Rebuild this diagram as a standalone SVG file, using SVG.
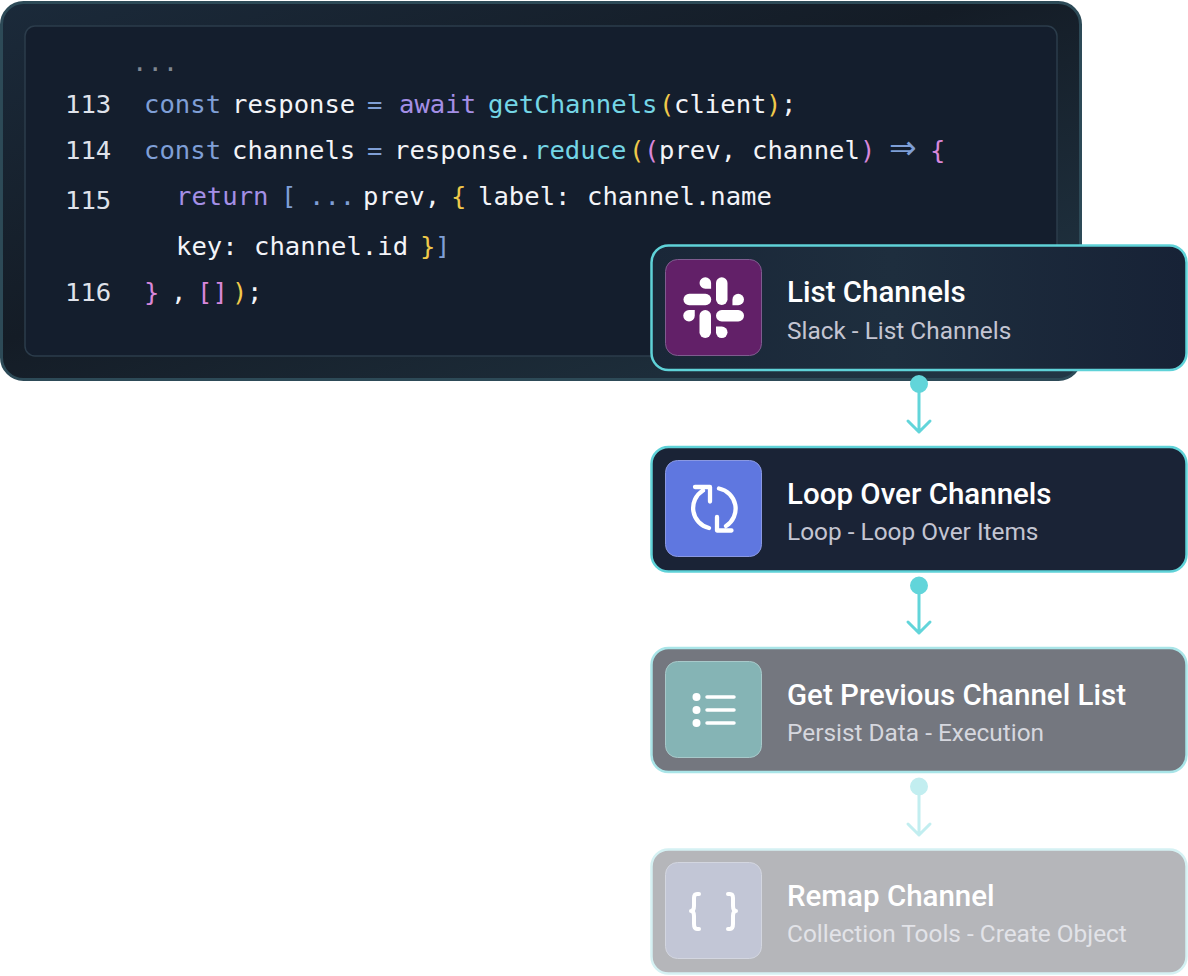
<svg xmlns="http://www.w3.org/2000/svg" width="1188" height="976" viewBox="0 0 1188 976">
<style>
.c{font-family:"DejaVu Sans Mono","Liberation Mono",monospace;font-size:25.6px;fill:#f3f4f8;white-space:pre}
.b{fill:#7f9fd6}.p{fill:#a48fe6}.t{fill:#74d6e6}.y{fill:#f0c94a}.m{fill:#d887da}.n{fill:#dfe2ea}
.h{font-family:Roboto,"Liberation Sans",sans-serif;font-size:29.5px;font-weight:500;fill:#fff}
.s{font-family:Roboto,"Liberation Sans",sans-serif;font-size:24.4px;font-weight:400}
.ic{fill:none;stroke:#fff;stroke-linecap:round;stroke-linejoin:round}
</style>
<defs>
<linearGradient id="outer" x1="0" y1="0" x2="1" y2="1"><stop offset="0" stop-color="#1b2a3a"/><stop offset=".45" stop-color="#141c26"/><stop offset="1" stop-color="#223746"/></linearGradient>
<linearGradient id="n1" x1="0" y1="0" x2="1" y2="0"><stop offset="0" stop-color="#1a2738"/><stop offset=".45" stop-color="#1e2e3e"/><stop offset="1" stop-color="#172236"/></linearGradient>
</defs>
<g id="code-panel">
<rect x="1.5" y="2.5" width="1079" height="377" rx="22" fill="url(#outer)" stroke="#2d4a57" stroke-width="3"/>
<rect x="25" y="26" width="1032" height="330" rx="10" fill="#141e2d" stroke="#2b3c4b" stroke-width="1.500"/>
<text class="c" x="132" y="71" style="fill:#7f8791">...</text>
<text class="c n" x="65" y="113">113</text>
<text class="c n" x="65" y="159">114</text>
<text class="c n" x="65" y="209">115</text>
<text class="c n" x="65" y="301">116</text>
<text class="c" y="113"><tspan class="b" x="144">const</tspan><tspan x="232">response</tspan><tspan class="b" x="367">=</tspan><tspan class="p" x="399">await</tspan><tspan class="t" x="488">getChannels</tspan><tspan class="y" x="659">(</tspan><tspan x="674">client</tspan><tspan class="y" x="766">)</tspan><tspan x="781">;</tspan></text>
<text class="c" y="159"><tspan class="b" x="144">const</tspan><tspan x="232">channels</tspan><tspan class="b" x="367">=</tspan><tspan x="394">response.</tspan><tspan class="t" x="534">reduce</tspan><tspan class="y" x="629">(</tspan><tspan class="m" x="644">(</tspan><tspan x="659">prev,</tspan><tspan x="752">channel</tspan><tspan class="m" x="860">)</tspan><tspan class="b" x="889" style="font-family:'DejaVu Sans',sans-serif;font-size:33px">⇒</tspan><tspan class="m" x="930">{</tspan></text>
<text class="c" y="205"><tspan class="p" x="176">return</tspan><tspan class="b" x="281">[</tspan><tspan class="b" x="309">...</tspan><tspan x="363">prev,</tspan><tspan class="y" x="451">{</tspan><tspan x="478">label:</tspan><tspan x="587">channel.name</tspan></text>
<text class="c" y="255"><tspan x="176">key:</tspan><tspan x="254">channel.id</tspan><tspan class="y" x="420">}</tspan><tspan class="b" x="435">]</tspan></text>
<text class="c" y="301"><tspan class="m" x="144">}</tspan><tspan x="171">,</tspan><tspan class="m" x="197">[]</tspan><tspan class="y" x="232">)</tspan><tspan x="247">;</tspan></text>
</g>
<g id="connectors" fill="none" stroke-width="3" stroke-linecap="round" stroke-linejoin="round">
<g stroke="#62d5da"><circle cx="919" cy="384" r="7.500" fill="#62d5da"/><path d="M919 388V432M908 421L919 432L930 421"/></g>
<g stroke="#62d5da"><circle cx="919" cy="585.500" r="7.500" fill="#62d5da"/><path d="M919 590V633M908 622L919 633L930 622"/></g>
<g stroke="#c2eef0"><circle cx="919" cy="786.500" r="7.500" fill="#c2eef0"/><path d="M919 791V835M908 824L919 835L930 824"/></g>
</g>
<g id="node-list-channels">
<rect x="651.500" y="245.500" width="535" height="124.500" rx="17" fill="url(#n1)" stroke="#5fd2d8" stroke-width="2.500"/>
<rect x="665.500" y="259.500" width="96" height="96" rx="12" fill="#622068" stroke="#7f5c8f"/>
<g fill="#fff">
<rect x="716" y="277.300" width="11.500" height="27.700" rx="5.750"/>
<rect x="683.500" y="293.700" width="27.700" height="11.500" rx="5.750"/>
<path d="M705.300 277.300a5.750 5.750 0 0 1 5.800 5.750v5.750h-5.800a5.750 5.750 0 0 1 0-11.500z"/>
<rect x="716" y="310" width="28" height="11.500" rx="5.750"/>
<path d="M738.200 293.700a5.750 5.750 0 0 1 0 11.500h-5.750v-5.750a5.750 5.750 0 0 1 5.750-5.750z"/>
<rect x="699.500" y="310" width="11.500" height="28" rx="5.750"/>
<path d="M689 310h5.750v5.750a5.750 5.750 0 1 1-5.750-5.750z"/>
<path d="M716 326.600h5.750a5.750 5.750 0 1 1-5.750 5.750z"/>
</g>
<text class="h" x="787" y="302">List Channels</text>
<text class="s" x="787" y="339" fill="#c4c5d2">Slack - List Channels</text>
</g>
<g id="node-loop">
<rect x="651.500" y="447" width="535" height="124.500" rx="17" fill="#1a2336" stroke="#5fd2d8" stroke-width="2.500"/>
<rect x="665.500" y="460.500" width="96" height="96" rx="12" fill="#5f77e0" stroke="#8a98e2"/>
<path class="ic" stroke-width="4.300" d="M695 487H710V501.500M703 490.500A20.500 20.500 0 0 0 709 528M719 488.500A20.500 20.500 0 0 1 726 526M717 517V530.500H731.500"/>
<text class="h" x="787" y="504">Loop Over Channels</text>
<text class="s" x="787" y="540" fill="#c4c5d2">Loop - Loop Over Items</text>
</g>
<g id="node-persist">
<rect x="651.500" y="648" width="535" height="124" rx="17" fill="#74777f" stroke="#a9e5e8" stroke-width="2.500"/>
<rect x="665.500" y="661.500" width="96" height="96" rx="12" fill="#85b4b5" stroke="#a8c9ca"/>
<circle cx="696.500" cy="697" r="4" fill="#fff"/><circle cx="696.500" cy="710" r="4" fill="#fff"/><circle cx="696.500" cy="723" r="4" fill="#fff"/>
<path class="ic" stroke-width="3.500" d="M707 697H734M707 710H734M707 723H734"/>
<text class="h" x="787" y="705">Get Previous Channel List</text>
<text class="s" x="787" y="741" fill="#d6d7de">Persist Data - Execution</text>
</g>
<g id="node-remap">
<rect x="651.500" y="849.500" width="535" height="124" rx="17" fill="#b5b6ba" stroke="#d5f1f3" stroke-width="2.500"/>
<rect x="665.500" y="862.500" width="96" height="96" rx="12" fill="#c2c6d6" stroke="#d3d6e0"/>
<path class="ic" stroke-width="4" d="M699 894H697Q694 894 694 898V906Q694 911 691 911Q694 911 694 916V924Q694 929 697 929H699M728 894H730Q733 894 733 898V906Q733 911 736 911Q733 911 733 916V924Q733 929 730 929H728"/>
<text class="h" x="787" y="906">Remap Channel</text>
<text class="s" x="787" y="942" fill="#e2e3e8">Collection Tools - Create Object</text>
</g>
</svg>
